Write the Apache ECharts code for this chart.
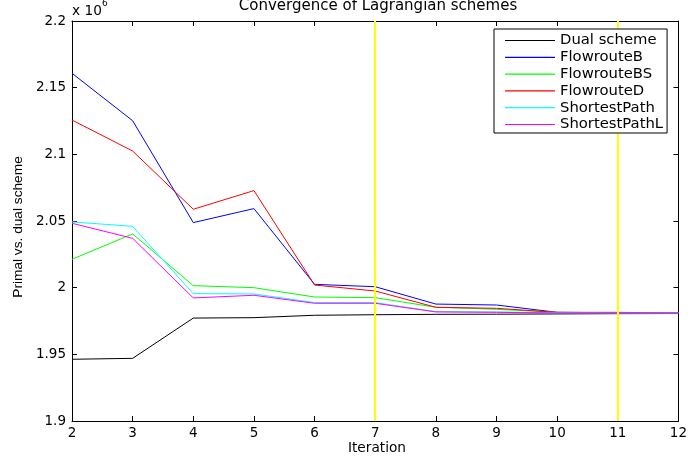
<!DOCTYPE html>
<html>
<head>
<meta charset="utf-8">
<script src="https://cdn.jsdelivr.net/npm/echarts@6/dist/echarts.min.js"></script>
<style>
html,body{margin:0;padding:0;background:#fff;}
#chart{width:690px;height:463px;}
</style>
</head>
<body>
<div id="chart"></div>
<script>
// Values in units of 10^6
var iterations = [2, 3, 4, 5, 6, 7, 8, 9, 10, 11, 12];
var dualScheme = [1.9463, 1.9470, 1.9772, 1.9775, 1.9793, 1.9797, 1.9800, 1.9801, 1.9803, 1.9805, 1.9806];
var flowrouteB = [2.1608, 2.1252, 2.0488, 2.0593, 2.0025, 2.0007, 1.9877, 1.9870, 1.9815, 1.9812, 1.9810];
var flowrouteBS = [2.0213, 2.0403, 2.0015, 2.0000, 1.9930, 1.9925, 1.9853, 1.9838, 1.9815, 1.9812, 1.9810];
var flowrouteD = [2.1257, 2.1025, 2.0588, 2.0728, 2.0020, 1.9975, 1.9853, 1.9845, 1.9815, 1.9815, 1.9810];
var shortestPath = [2.0493, 2.0460, 1.9955, 1.9953, 1.9888, 1.9888, 1.9820, 1.9818, 1.9812, 1.9810, 1.9810];
var shortestPathL = [2.0483, 2.0370, 1.9923, 1.9943, 1.9883, 1.9883, 1.9818, 1.9815, 1.9810, 1.9810, 1.9810];
var markedIterations = [7, 11];
var seriesNames = ['Dual scheme', 'FlowrouteB', 'FlowrouteBS', 'FlowrouteD', 'ShortestPath', 'ShortestPathL'];
var seriesValues = [dualScheme, flowrouteB, flowrouteBS, flowrouteD, shortestPath, shortestPathL];
var seriesColors = ['#000000', '#0000ff', '#00ff00', '#ff0000', '#00ffff', '#ff00ff'];

var chart = echarts.init(document.getElementById('chart'), null, {renderer: 'canvas'});
var FONT = 'DejaVu Sans';

var series = seriesNames.map(function (name, i) {
  return {
    name: name,
    type: 'line',
    xAxisIndex: 0,
    yAxisIndex: 0,
    symbol: 'none',
    showSymbol: false,
    animation: false,
    color: seriesColors[i],
    itemStyle: {color: seriesColors[i]},
    lineStyle: {color: seriesColors[i], width: 1},
    data: iterations.map(function (x, j) { return [x, seriesValues[i][j]]; })
  };
});
series.push({
  type: 'line',
  data: [],
  z: 3,
  silent: true,
  animation: false,
  markLine: {
    silent: true,
    symbol: 'none',
    animation: false,
    label: {show: false},
    lineStyle: {color: '#ffff00', width: 2, type: 'solid'},
    data: markedIterations.map(function (v) { return {xAxis: v}; })
  }
});

var tickFmt = function (v) { return String(+v.toFixed(2)); };

var option = {
  backgroundColor: '#ffffff',
  animation: false,
  grid: {left: 72, right: 8, top: 21, bottom: 42, show: false},
  xAxis: [{
    type: 'value', position: 'bottom', min: 2, max: 12, interval: 1,
    axisLine: {show: true, lineStyle: {color: '#000', width: 1}},
    axisTick: {show: true, inside: true, length: 5, lineStyle: {color: '#000'}},
    axisLabel: {show: true, margin: 5, color: '#000', fontFamily: FONT, fontSize: 13.5, formatter: tickFmt},
    splitLine: {show: false}
  }, {
    type: 'value', position: 'top', min: 2, max: 12, interval: 1,
    axisLine: {show: true, lineStyle: {color: '#000', width: 1}},
    axisTick: {show: true, inside: true, length: 5, lineStyle: {color: '#000'}},
    axisLabel: {show: false},
    splitLine: {show: false}
  }],
  yAxis: [{
    type: 'value', position: 'left', min: 1.9, max: 2.2, interval: 0.05,
    axisLine: {show: true, lineStyle: {color: '#000', width: 1}},
    axisTick: {show: true, inside: true, length: 5, lineStyle: {color: '#000'}},
    axisLabel: {show: true, margin: 6, color: '#000', fontFamily: FONT, fontSize: 13.5, formatter: tickFmt},
    splitLine: {show: false}
  }, {
    type: 'value', position: 'right', min: 1.9, max: 2.2, interval: 0.05,
    axisLine: {show: true, lineStyle: {color: '#000', width: 1}},
    axisTick: {show: true, inside: true, length: 5, lineStyle: {color: '#000'}},
    axisLabel: {show: false},
    splitLine: {show: false}
  }],
  legend: {
    data: seriesNames,
    orient: 'vertical',
    left: 494,
    top: 29,
    z: 10,
    icon: 'rect',
    padding: [4, 4, 1, 11],
    itemWidth: 50,
    itemHeight: 1.2,
    itemGap: 1.8,
    borderColor: '#000',
    borderWidth: 1,
    backgroundColor: '#fff',
    borderRadius: 0,
    selectedMode: false,
    textStyle: {color: '#000', fontFamily: FONT, fontSize: 14.8}
  },
  graphic: [
    {type: 'text', z: 20, style: {x: 378, y: 13.5, text: 'Convergence of Lagrangian schemes', fill: '#000',
      font: '15px "DejaVu Sans"', align: 'center', verticalAlign: 'bottom'}},
    {type: 'text', z: 20, style: {x: 72, y: 11, text: 'x 10', fill: '#000',
      font: '13.7px "DejaVu Sans"', align: 'left', verticalAlign: 'middle'}},
    {type: 'text', z: 20, style: {x: 102, y: 4, text: '6', fill: '#000',
      font: '9px "DejaVu Sans"', align: 'left', verticalAlign: 'middle'}},
    {type: 'text', z: 20, style: {x: 377, y: 448.5, text: 'Iteration', fill: '#000',
      font: '13.7px "DejaVu Sans"', align: 'center', verticalAlign: 'middle'}},
    {type: 'text', z: 20, x: 18, y: 227, rotation: Math.PI / 2,
      style: {x: 0, y: 0, text: 'Primal vs. dual scheme', fill: '#000',
      font: '13.7px "Liberation Sans"', align: 'center', verticalAlign: 'middle'}}
  ],
  series: series
};
chart.setOption(option);
</script>
</body>
</html>
